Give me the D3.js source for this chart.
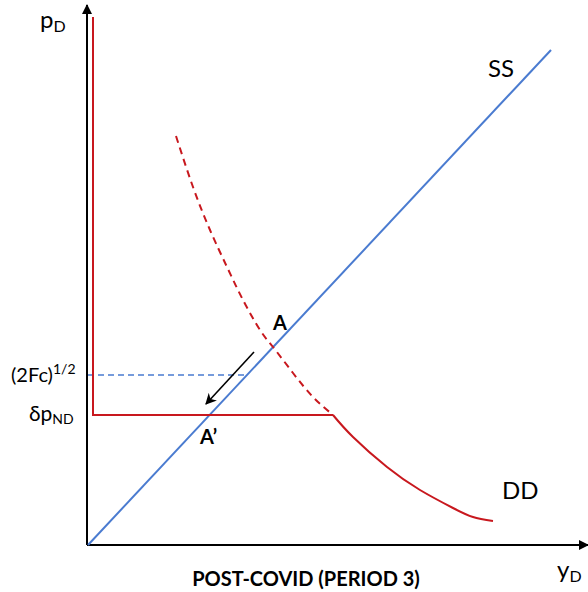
<!DOCTYPE html>
<html>
<head>
<meta charset="utf-8">
<script src="https://cdn.jsdelivr.net/npm/d3@7"></script>
<style>
  body { margin: 0; background: #fff; }
  svg { font-family: Lato, "Open Sans", sans-serif; }
</style>
</head>
<body>
<div id="chart"></div>
<script>
// Curve data, in chart units (x: quantity y_D, y: price p_D)
const ddDashed = [
  [17.6, 81.8], [21, 71.6], [24.4, 63], [27.8, 55.6], [31, 49],
  [34.4, 43], [37, 39.6], [41, 34.4], [45, 29.6], [49, 26]
];
const ddSolid = [
  [49, 26], [53, 21.6], [59.8, 15.6], [66.4, 11], [73, 7.4], [77, 5.6], [81, 4.8]
];
const floorLine = [[1, 105.6], [1, 26], [49, 26]];   // red vertical + horizontal at delta*pND
const ssLine = [[0, 0], [92.6, 99]];
const thresholdLine = [[0, 34], [32, 34]];             // (2Fc)^1/2
const moveArrow = [[33.2, 38.6], [23.6, 28.2]];        // A -> A'
const priceLevels = { threshold: 34, floor: 26 };

const W = 588, H = 592;
const x = d3.scaleLinear().domain([0, 100]).range([88, 588]);
const y = d3.scaleLinear().domain([0, 108]).range([545, 5]);

const svg = d3.select('#chart').append('svg')
  .attr('width', W)
  .attr('height', H);

const defs = svg.append('defs');
defs.append('marker')
  .attr('id', 'axisHead')
  .attr('viewBox', '0 0 10 10')
  .attr('refX', 9).attr('refY', 5)
  .attr('markerWidth', 5).attr('markerHeight', 5)
  .attr('markerUnits', 'strokeWidth')
  .attr('orient', 'auto')
  .append('path').attr('d', 'M0,0L10,5L0,10z').attr('fill', '#000');
defs.append('marker')
  .attr('id', 'moveHead')
  .attr('viewBox', '0 0 10 10')
  .attr('refX', 9).attr('refY', 5)
  .attr('markerWidth', 7).attr('markerHeight', 7)
  .attr('markerUnits', 'strokeWidth')
  .attr('orient', 'auto')
  .append('path').attr('d', 'M0,0L10,5L0,10L3,5z').attr('fill', '#000');

const line = d3.line().x(d => x(d[0])).y(d => y(d[1]));
const curve = d3.line().x(d => x(d[0])).y(d => y(d[1])).curve(d3.curveNatural);

// axes
svg.append('line')
  .attr('x1', x(-0.2)).attr('y1', y(0)).attr('x2', x(-0.2)).attr('y2', y(108))
  .attr('stroke', '#000').attr('stroke-width', 2)
  .attr('marker-end', 'url(#axisHead)');
svg.append('line')
  .attr('x1', x(-0.2)).attr('y1', y(0)).attr('x2', x(100)).attr('y2', y(0))
  .attr('stroke', '#000').attr('stroke-width', 2)
  .attr('marker-end', 'url(#axisHead)');

const red = '#c8181e';
const blue = '#4a7bd0';

// threshold dashed line
svg.append('path')
  .attr('d', line(thresholdLine))
  .attr('fill', 'none').attr('stroke', blue).attr('stroke-width', 1.3)
  .attr('stroke-dasharray', '6,4');

// SS
svg.append('path')
  .attr('d', line(ssLine))
  .attr('fill', 'none').attr('stroke', blue).attr('stroke-width', 2);

// red floor
svg.append('path')
  .attr('d', line(floorLine))
  .attr('fill', 'none').attr('stroke', red).attr('stroke-width', 2);

// DD
svg.append('path')
  .attr('d', curve(ddDashed))
  .attr('fill', 'none').attr('stroke', red).attr('stroke-width', 2)
  .attr('stroke-dasharray', '7,5');
svg.append('path')
  .attr('d', curve(ddSolid))
  .attr('fill', 'none').attr('stroke', red).attr('stroke-width', 2);

// movement arrow
svg.append('path')
  .attr('d', line(moveArrow))
  .attr('fill', 'none').attr('stroke', '#000').attr('stroke-width', 1.6)
  .attr('marker-end', 'url(#moveHead)');

// labels
function sub(t, main, s, subSize, dy) {
  t.append('tspan').text(main);
  t.append('tspan').attr('font-size', subSize).attr('dy', dy).text(s);
}

const pLab = svg.append('text').attr('x', 40).attr('y', 28).attr('font-size', 24).attr('fill', '#000');
sub(pLab, 'p', 'D', 16, 4);

const tLab = svg.append('text').attr('x', 11).attr('y', y(priceLevels.threshold) + 7)
  .attr('font-size', 20).attr('fill', '#000');
tLab.append('tspan').text('(2Fc)');
tLab.append('tspan').attr('font-size', 14).attr('dy', -8).text('1/2');

const fLab = svg.append('text').attr('x', 29).attr('y', y(priceLevels.floor) + 6)
  .attr('font-size', 21).attr('fill', '#000');
sub(fLab, 'δp', 'ND', 14, 3);

svg.append('text').attr('x', 273).attr('y', 330)
  .attr('font-size', 20).attr('font-weight', 'bold').text('A');
svg.append('text').attr('x', 200).attr('y', 444)
  .attr('font-size', 20).attr('font-weight', 'bold').text('A\u2019');

svg.append('text').attr('x', 488).attr('y', 77).attr('font-size', 24).text('SS');
svg.append('text').attr('x', 502).attr('y', 499).attr('font-size', 24).text('DD');

const yLab = svg.append('text').attr('x', 557).attr('y', 578).attr('font-size', 24).attr('fill', '#000');
sub(yLab, 'y', 'D', 16, 4);

svg.append('text').attr('x', 306).attr('y', 586)
  .attr('text-anchor', 'middle')
  .attr('font-size', 20).attr('font-weight', 'bold').text('POST-COVID (PERIOD 3)');
</script>
</body>
</html>
